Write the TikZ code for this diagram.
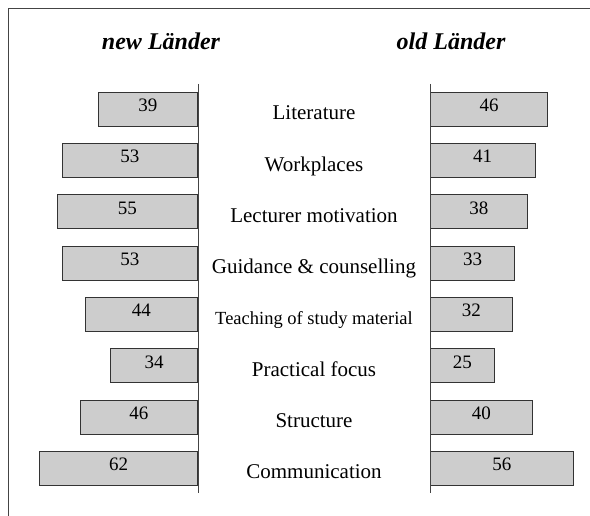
\documentclass[tikz,border=0pt]{standalone}
\usepackage{fontspec}
\setmainfont{Liberation Serif}
\definecolor{barfill}{HTML}{CDCDCD}
\definecolor{barline}{HTML}{333333}
\definecolor{axisline}{HTML}{444444}

\begin{document}
\begin{tikzpicture}[x=1pt,y=-1pt]
      \tikzstyle{every node}+=[inner sep=0pt]
      \tikzstyle{bar}=[draw=barline, fill=barfill, line width=0.9pt, minimum height=34pt,
        text height=14pt, text depth=9.2pt, font=\fontsize{19}{21}\selectfont]
      \tikzstyle{lbar}=[bar, anchor=east, minimum width=2.55pt*#1]
      \tikzstyle{rbar}=[bar, anchor=west, minimum width=2.55pt*#1]
      \tikzstyle{cat}=[anchor=base, font=\fontsize{21}{24}\selectfont]
      \tikzstyle{head}=[anchor=base, font=\fontsize{24}{28}\selectfont\bfseries\itshape]
      \useasboundingbox (0,0) rectangle (590,516);
      % frame
      \draw [axisline, line width=0.9pt] (8,516) -- (8,8) -- (590,8);
      % titles
      \node [head] (newl) at (161,49.3) {new L\"ander};
      \node [head] (oldl) at (451,49.3) {old L\"ander};
      % axes
      \coordinate (ltop) at (198,84);
      \coordinate (lbot) at (198,493);
      \coordinate (rtop) at (430,84);
      \coordinate (rbot) at (430,493);
      % bars
      \node [lbar=39] (l1) at (198,109.3) {39};
      \node [rbar=46] (r1) at (430,109.3) {46};
      \node [cat] (c1) at (314,119.8) {Literature};
      \node [lbar=53] (l2) at (198,160.6) {53};
      \node [rbar=41] (r2) at (430,160.6) {41};
      \node [cat] (c2) at (314,171.1) {Workplaces};
      \node [lbar=55] (l3) at (198,211.9) {55};
      \node [rbar=38] (r3) at (430,211.9) {38};
      \node [cat] (c3) at (314,222.4) {Lecturer motivation};
      \node [lbar=53] (l4) at (198,263.2) {53};
      \node [rbar=33] (r4) at (430,263.2) {33};
      \node [cat] (c4) at (314,273.7) {Guidance \& counselling};
      \node [lbar=44] (l5) at (198,314.5) {44};
      \node [rbar=32] (r5) at (430,314.5) {32};
      \node [cat, font=\fontsize{18.5}{21}\selectfont] (c5) at (314,324.5) {Teaching of study material};
      \node [lbar=34] (l6) at (198,365.8) {34};
      \node [rbar=25] (r6) at (430,365.8) {25};
      \node [cat] (c6) at (314,376.3) {Practical focus};
      \node [lbar=46] (l7) at (198,417.1) {46};
      \node [rbar=40] (r7) at (430,417.1) {40};
      \node [cat] (c7) at (314,427.6) {Structure};
      \node [lbar=62] (l8) at (198,468.4) {62};
      \node [rbar=56] (r8) at (430,468.4) {56};
      \node [cat] (c8) at (314,478.9) {Communication};
      \draw [axisline, line width=0.9pt] (ltop) -- (lbot);
      \draw [axisline, line width=0.9pt] (rtop) -- (rbot);
    \end{tikzpicture}
\end{document}
